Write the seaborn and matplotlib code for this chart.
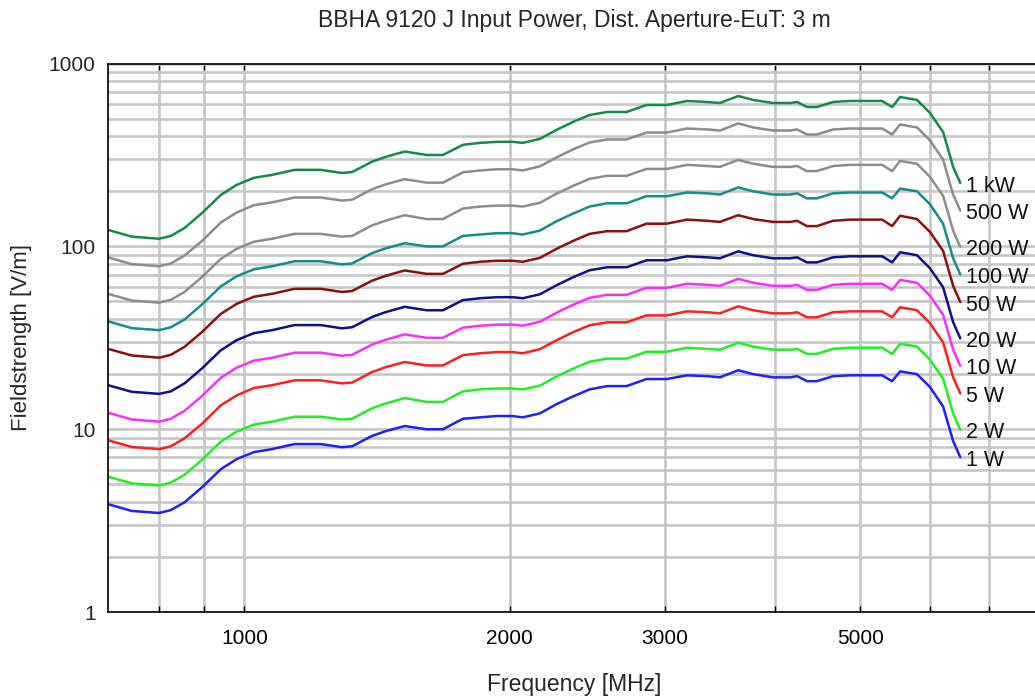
import numpy as np
import pandas as pd
import matplotlib
matplotlib.use("Agg")
import matplotlib.pyplot as plt
from matplotlib.ticker import FixedLocator, NullFormatter
import seaborn as sns

# frequency points (MHz), shared by all curves
freq = [700, 745, 800, 825, 855, 895, 940, 980, 1025, 1075, 1140, 1220, 1290, 1325,
        1395, 1445, 1520, 1610, 1680, 1770, 1850, 1935, 2015, 2070, 2165, 2260, 2360,
        2465, 2580, 2715, 2860, 3015, 3180, 3350, 3465, 3635, 3780, 3980, 4165, 4240,
        4350, 4465, 4660, 4870, 5295, 5435, 5550, 5800, 6000, 6210, 6375, 6495]

e_1kw = [123, 113, 110, 114, 126, 152, 191, 217, 237, 246, 262, 262, 252, 255, 290, 308,
         330, 316, 316, 359, 368, 373, 373, 368, 387, 433, 479, 523, 543, 543, 593, 593,
         624, 616, 608, 664, 632, 608, 608, 616, 578, 578, 616, 624, 624, 578, 656, 632,
         537, 422, 272, 222]
e_500w = [87.0, 79.9, 77.8, 80.6, 89.1, 107, 135, 153, 168, 174, 185, 185, 178, 180, 205,
          218, 233, 223, 223, 254, 260, 264, 264, 260, 274, 306, 339, 370, 384, 384, 419,
          419, 441, 436, 430, 470, 447, 430, 430, 436, 409, 409, 436, 441, 441, 409, 464,
          447, 380, 298, 192, 157]
e_200w = [55.0, 50.5, 49.2, 51.0, 56.3, 68.0, 85.4, 97.0, 106, 110, 117, 117, 113, 114, 130,
          138, 148, 141, 141, 161, 165, 167, 167, 165, 173, 194, 214, 234, 243, 243, 265,
          265, 279, 275, 272, 297, 283, 272, 272, 275, 258, 258, 275, 279, 279, 258, 293,
          283, 240, 189, 122, 99.3]
e_100w = [38.9, 35.7, 34.8, 36.1, 39.8, 48.1, 60.4, 68.6, 74.9, 77.8, 82.9, 82.9, 79.7, 80.6,
          91.7, 97.4, 104, 99.9, 99.9, 114, 116, 118, 118, 116, 122, 137, 151, 165, 172, 172,
          188, 188, 197, 195, 192, 210, 200, 192, 192, 195, 183, 183, 195, 197, 197, 183,
          207, 200, 170, 133, 86.0, 70.2]
e_50w = [27.5, 25.3, 24.6, 25.5, 28.2, 34.0, 42.7, 48.5, 53.0, 55.0, 58.6, 58.6, 56.3, 57.0,
         64.8, 68.9, 73.8, 70.7, 70.7, 80.3, 82.3, 83.4, 83.4, 82.3, 86.5, 96.8, 107, 117, 121,
         121, 133, 133, 140, 138, 136, 148, 141, 136, 136, 138, 129, 129, 138, 140, 140, 129,
         147, 141, 120, 94.4, 60.8, 49.6]
e_20w = [17.4, 16.0, 15.6, 16.1, 17.8, 21.5, 27.0, 30.7, 33.5, 34.8, 37.1, 37.1, 35.6, 36.1,
         41.0, 43.6, 46.7, 44.7, 44.7, 50.8, 52.0, 52.7, 52.7, 52.0, 54.7, 61.2, 67.7, 74.0,
         76.8, 76.8, 83.9, 83.9, 88.2, 87.1, 86.0, 93.9, 89.4, 86.0, 86.0, 87.1, 81.7, 81.7,
         87.1, 88.2, 88.2, 81.7, 92.8, 89.4, 75.9, 59.7, 38.5, 31.4]
e_10w = [12.3, 11.3, 11.0, 11.4, 12.6, 15.2, 19.1, 21.7, 23.7, 24.6, 26.2, 26.2, 25.2, 25.5,
         29.0, 30.8, 33.0, 31.6, 31.6, 35.9, 36.8, 37.3, 37.3, 36.8, 38.7, 43.3, 47.9, 52.3,
         54.3, 54.3, 59.3, 59.3, 62.4, 61.6, 60.8, 66.4, 63.2, 60.8, 60.8, 61.6, 57.8, 57.8,
         61.6, 62.4, 62.4, 57.8, 65.6, 63.2, 53.7, 42.2, 27.2, 22.2]
e_5w = [8.70, 7.99, 7.78, 8.06, 8.91, 10.7, 13.5, 15.3, 16.8, 17.4, 18.5, 18.5, 17.8, 18.0,
        20.5, 21.8, 23.3, 22.3, 22.3, 25.4, 26.0, 26.4, 26.4, 26.0, 27.4, 30.6, 33.9, 37.0,
        38.4, 38.4, 41.9, 41.9, 44.1, 43.6, 43.0, 47.0, 44.7, 43.0, 43.0, 43.6, 40.9, 40.9,
        43.6, 44.1, 44.1, 40.9, 46.4, 44.7, 38.0, 29.8, 19.2, 15.7]
e_2w = [5.50, 5.05, 4.92, 5.10, 5.63, 6.80, 8.54, 9.70, 10.6, 11.0, 11.7, 11.7, 11.3, 11.4,
        13.0, 13.8, 14.8, 14.1, 14.1, 16.1, 16.5, 16.7, 16.7, 16.5, 17.3, 19.4, 21.4, 23.4,
        24.3, 24.3, 26.5, 26.5, 27.9, 27.5, 27.2, 29.7, 28.3, 27.2, 27.2, 27.5, 25.8, 25.8,
        27.5, 27.9, 27.9, 25.8, 29.3, 28.3, 24.0, 18.9, 12.2, 9.93]
e_1w = [3.89, 3.57, 3.48, 3.61, 3.98, 4.81, 6.04, 6.86, 7.49, 7.78, 8.29, 8.29, 7.97, 8.06,
        9.17, 9.74, 10.4, 9.99, 9.99, 11.4, 11.6, 11.8, 11.8, 11.6, 12.2, 13.7, 15.1, 16.5,
        17.2, 17.2, 18.8, 18.8, 19.7, 19.5, 19.2, 21.0, 20.0, 19.2, 19.2, 19.5, 18.3, 18.3,
        19.5, 19.7, 19.7, 18.3, 20.7, 20.0, 17.0, 13.3, 8.60, 7.02]

powers = ["1 kW", "500 W", "200 W", "100 W", "50 W", "20 W", "10 W", "5 W", "2 W", "1 W"]
series = [e_1kw, e_500w, e_200w, e_100w, e_50w, e_20w, e_10w, e_5w, e_2w, e_1w]
colors = ["#128a48", "#8c8c8c", "#8c8c8c", "#148c8c", "#8a1010", "#10108a",
          "#ff30ff", "#ff2020", "#20f020", "#2020ff"]

x_major = [1000, 2000, 3000, 5000]
x_minor = [800, 900, 4000, 6000, 7000]

rows = []
for p, vals in zip(powers, series):
    for f, v in zip(freq, vals):
        rows.append((p, f, v))
df = pd.DataFrame(rows, columns=["power", "freq", "E"])

sns.set_style("white")
plt.rcParams['font.family'] = ['Liberation Sans', 'DejaVu Sans']

fig = plt.figure(figsize=(10.35, 6.99), dpi=100)
ax = fig.add_axes([108/1035, 1 - 612/699, 932/1035, 548.5/699])

sns.lineplot(data=df, x="freq", y="E", hue="power", hue_order=powers,
             palette=dict(zip(powers, colors)), linewidth=1.8, legend=False,
             estimator=None, sort=True, ax=ax)

ax.set_xscale("log")
ax.set_yscale("log")
ax.set_xlim(700, 8000)
ax.set_ylim(1, 1000)

ax.xaxis.set_major_locator(FixedLocator(x_major))
ax.xaxis.set_minor_locator(FixedLocator(x_minor))
ax.xaxis.set_major_formatter(matplotlib.ticker.FixedFormatter([str(v) for v in x_major]))
ax.xaxis.set_minor_formatter(NullFormatter())
ax.yaxis.set_major_locator(FixedLocator([1, 10, 100, 1000]))
ax.yaxis.set_major_formatter(matplotlib.ticker.FixedFormatter(["1", "10", "100", "1000"]))
ax.yaxis.set_minor_locator(matplotlib.ticker.LogLocator(base=10, subs=np.arange(2, 10)))
ax.yaxis.set_minor_formatter(NullFormatter())

ax.grid(True, which="both", color="#c6c6c6", linewidth=1.9)
ax.set_axisbelow(True)
ax.tick_params(axis="x", which="both", direction="in", length=4, width=1,
               top=True, bottom=True, labelsize=15, pad=12, colors="black")
ax.tick_params(axis="y", which="both", length=0, labelsize=15, pad=9)
for s in ["left", "bottom", "top"]:
    ax.spines[s].set_color("black")
    ax.spines[s].set_linewidth(1.2)
ax.spines["right"].set_visible(False)

# power labels next to the curve ends
for p, vals, c in zip(powers, series, colors):
    ax.annotate(p, (freq[-1], vals[-1]), xytext=(6, -3), textcoords="offset pixels",
                fontsize=15.5, va="center", ha="left", color="#111111")

ax.set_title("BBHA 9120 J Input Power, Dist. Aperture-EuT: 3 m", fontsize=16.5, pad=26)
ax.set_xlabel("Frequency [MHz]", fontsize=16.5, labelpad=18)
ax.set_ylabel("Fieldstrength [V/m]", fontsize=16, labelpad=12)

fig.savefig("out.png", dpi=100)
